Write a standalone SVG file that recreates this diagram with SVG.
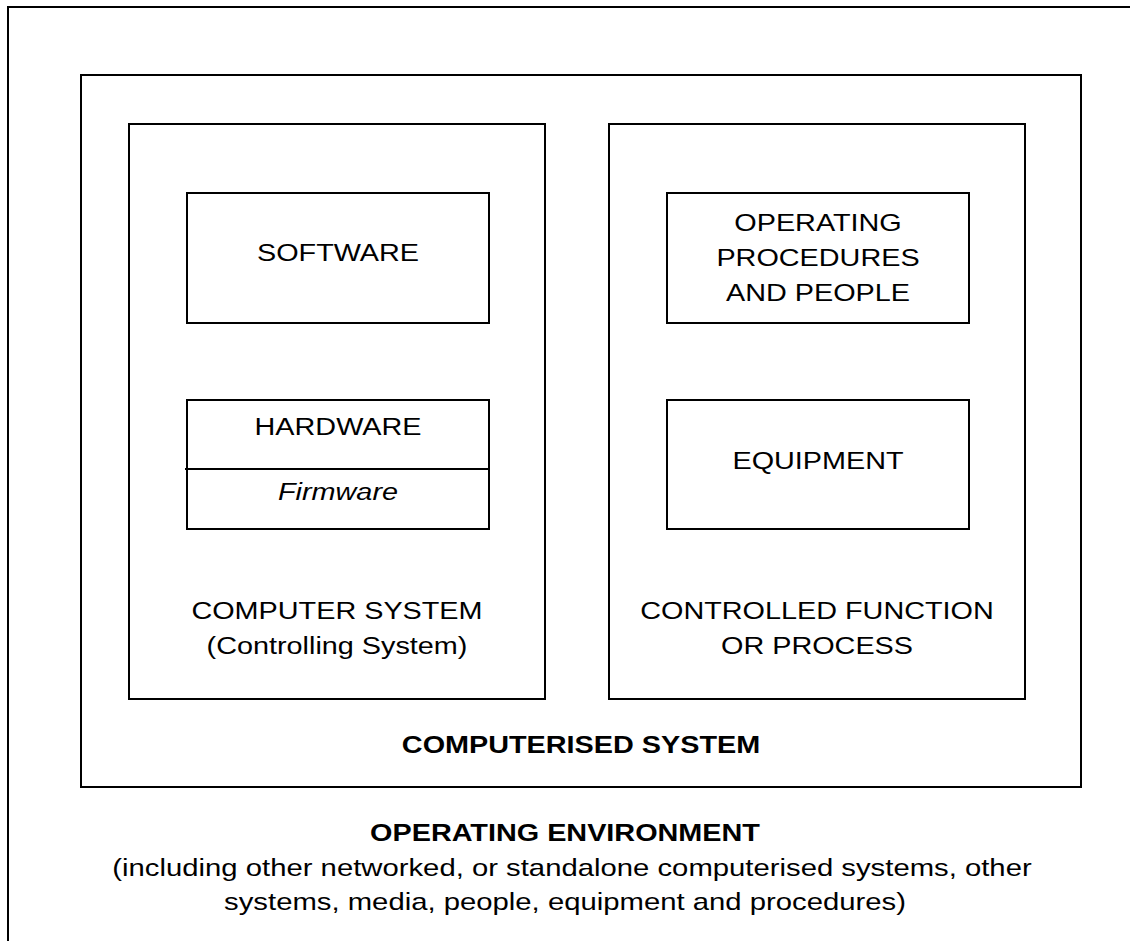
<svg xmlns="http://www.w3.org/2000/svg" width="1130" height="941" viewBox="0 0 1130 941">
<style>
rect{fill:none;stroke:#000;stroke-width:2}
line{stroke:#000;stroke-width:2}
text{font-family:"Liberation Sans",Arial,sans-serif;font-size:24px;fill:#000;text-anchor:middle}
.b{font-weight:bold}
.i{font-style:italic}
</style>
<rect x="0" y="0" width="1130" height="941" style="fill:#fff;stroke:none"/>
<g id="operating-environment">
<rect x="8" y="7" width="1140" height="960"/>
<text class="b" transform="translate(565,841) scale(1.2,1)">OPERATING ENVIRONMENT</text>
<text transform="translate(572,876) scale(1.22,1)">(including other networked, or standalone computerised systems, other</text>
<text transform="translate(565,910) scale(1.22,1)">systems, media, people, equipment and procedures)</text>
</g>
<g id="computerised-system">
<rect x="81" y="75" width="1000" height="712"/>
<text class="b" transform="translate(581,753) scale(1.2,1)">COMPUTERISED SYSTEM</text>
</g>
<g id="computer-system">
<rect x="129" y="124" width="416" height="575"/>
<text transform="translate(337,619) scale(1.2,1)">COMPUTER SYSTEM</text>
<text transform="translate(337,654) scale(1.2,1)">(Controlling System)</text>
</g>
<g id="controlled-function">
<rect x="609" y="124" width="416" height="575"/>
<text transform="translate(817,619) scale(1.2,1)">CONTROLLED FUNCTION</text>
<text transform="translate(817,654) scale(1.2,1)">OR PROCESS</text>
</g>
<g id="software">
<rect x="187" y="193" width="302" height="130"/>
<text transform="translate(338,261) scale(1.2,1)">SOFTWARE</text>
</g>
<g id="hardware">
<rect x="187" y="400" width="302" height="129"/>
<line x1="185" y1="469" x2="489" y2="469"/>
<text transform="translate(338,435) scale(1.2,1)">HARDWARE</text>
<text class="i" transform="translate(338,500) scale(1.2,1)">Firmware</text>
</g>
<g id="operating-procedures">
<rect x="667" y="193" width="302" height="130"/>
<text transform="translate(818,231) scale(1.2,1)">OPERATING</text>
<text transform="translate(818,266) scale(1.2,1)">PROCEDURES</text>
<text transform="translate(818,301) scale(1.2,1)">AND PEOPLE</text>
</g>
<g id="equipment">
<rect x="667" y="400" width="302" height="129"/>
<text transform="translate(818,469) scale(1.2,1)">EQUIPMENT</text>
</g>
<g id="connectors"></g>
</svg>
